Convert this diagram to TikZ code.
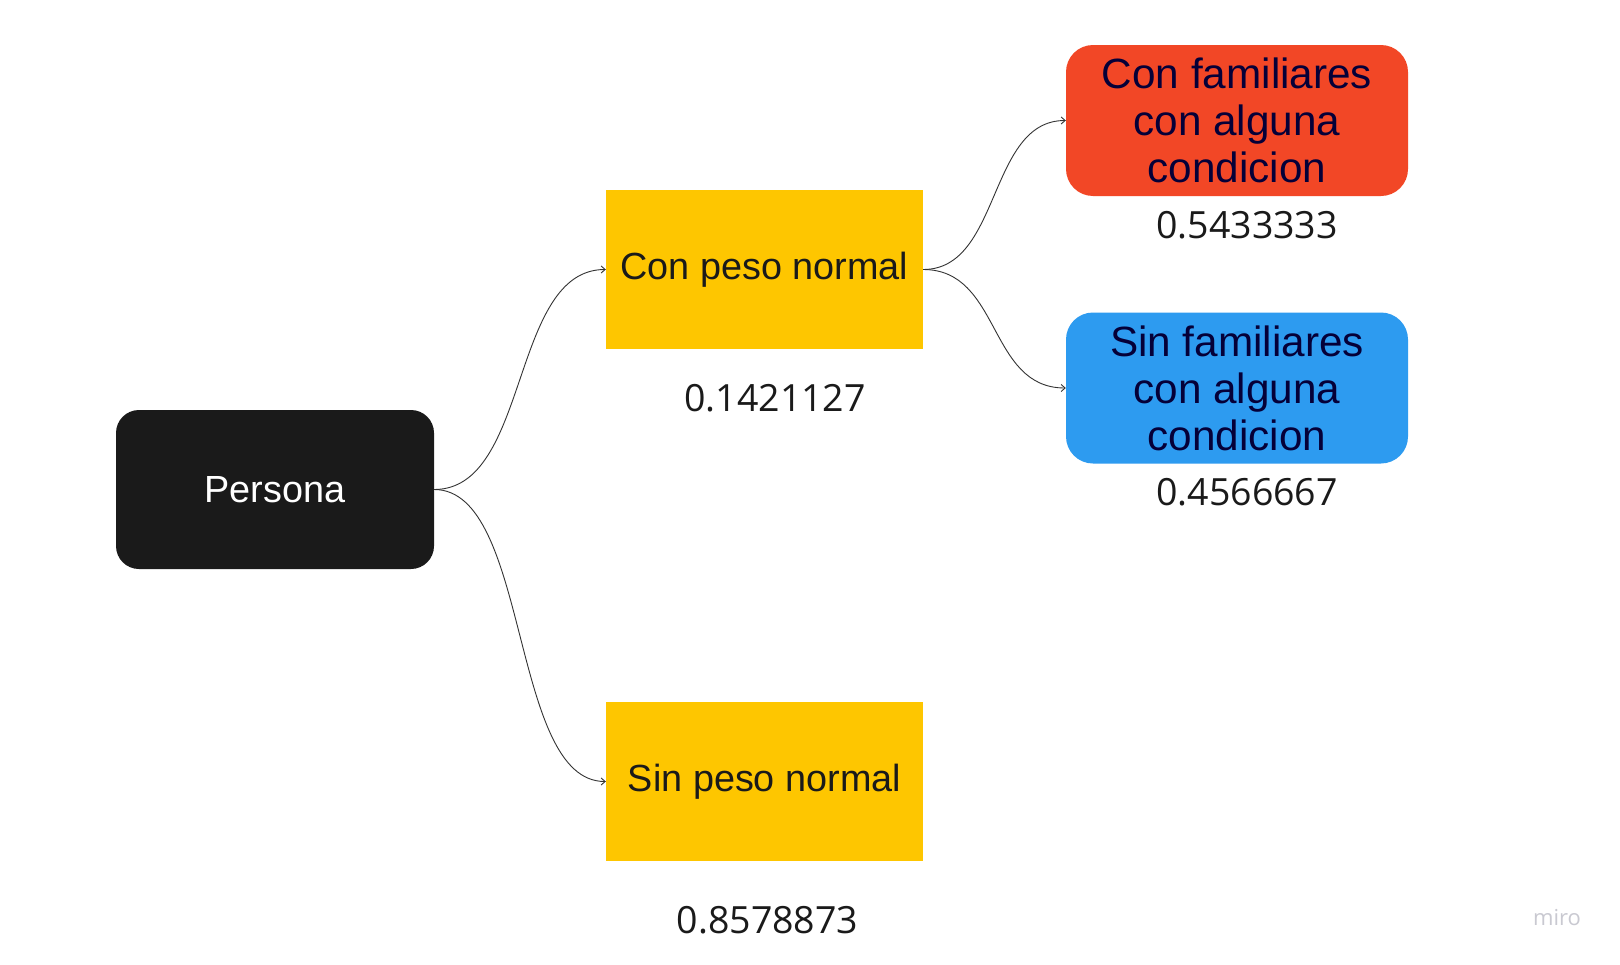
\documentclass[tikz,border=0pt]{standalone}
\usepackage{fontspec}
\setmainfont{Liberation Sans}
\newfontfamily\numfont{Open Sans}
\usetikzlibrary{arrows.meta,calc}
\definecolor{mred}{HTML}{F24726}
\definecolor{mblue}{HTML}{2D9BF0}
\definecolor{myellow}{HTML}{FEC600}
\definecolor{mblack}{HTML}{1A1A1A}
\definecolor{mnavy}{HTML}{050038}
\definecolor{mline}{HTML}{333333}
\definecolor{mgray}{HTML}{C9C9D1}
\tikzset{
  box/.style={inner sep=0pt, align=center},
  ybox/.style={box, fill=myellow, minimum width=317pt, minimum height=159pt,
    font=\fontsize{37.8}{42}\selectfont, text=mblack},
  cbox/.style={box, rounded corners=27pt, minimum width=342pt, minimum height=151pt,
    font=\fontsize{42.3}{47}\selectfont, text=mnavy},
  val/.style={inner sep=0pt, font=\numfont\fontsize{37.5}{42}\selectfont, text=mblack},
  conn/.style={draw=mline, line width=0.9pt, -{Straight Barb[length=4pt,width=7pt]}}
}
\begin{document}
\begin{tikzpicture}[x=1pt,y=-1pt]
\useasboundingbox[fill=white] (0,0) rectangle (1620,964);
\node[box, fill=mblack, rounded corners=23pt, minimum width=318pt, minimum height=159pt,
  font=\fontsize{37.8}{42}\selectfont, text=white] (p) at (275,489.5) {Persona};
\node[ybox] (c) at (764.5,269.5) {Con peso normal};
\node[ybox] (s) at (764.5,781.5) {Sin peso normal};
\node[cbox, fill=mred] (r) at (1237,120.5) {Con familiares\\con alguna\\condicion};
\node[cbox, fill=mblue] (b) at (1237,388) {Sin familiares\\con alguna\\condicion};
\node[val] (v1) at (775,398) {0.1421127};
\node[val] (v2) at (767.5,920) {0.8578873};
\node[val] (v3) at (1247,225) {0.5433333};
\node[val] (v4) at (1247,492) {0.4566667};
\node[inner sep=0pt, font=\numfont\fontsize{22}{24}\selectfont, text=mgray] (m) at (1557,918) {miro};
\draw[conn] (p.east) .. controls ($(p.east)+(96,0)$) and ($(c.west)-(96,0)$) .. (c.west);
\draw[conn] (p.east) .. controls ($(p.east)+(96,0)$) and ($(s.west)-(96,0)$) .. (s.west);
\draw[conn] (c.east) .. controls ($(c.east)+(78,0)$) and ($(r.west)-(78,0)$) .. (r.west);
\draw[conn] (c.east) .. controls ($(c.east)+(78,0)$) and ($(b.west)-(78,0)$) .. (b.west);
\end{tikzpicture}
\end{document}
